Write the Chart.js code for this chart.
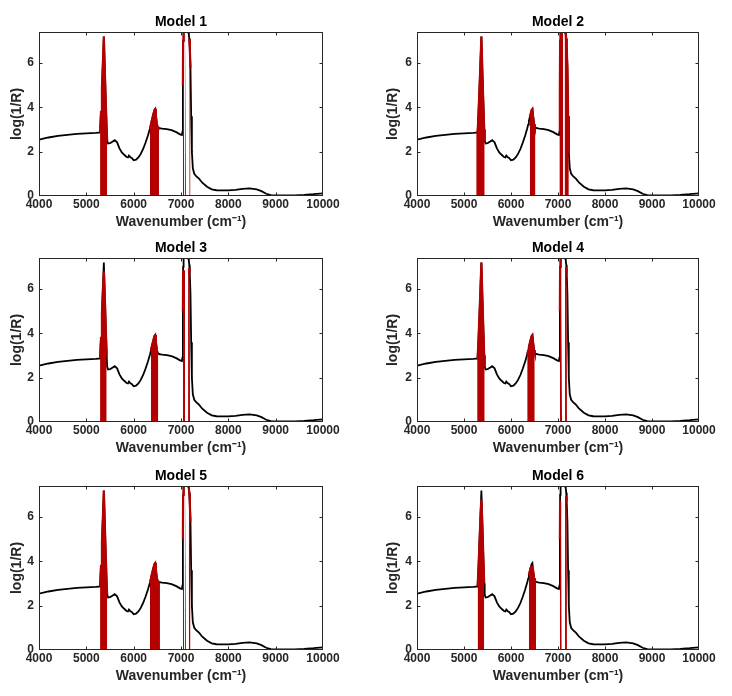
<!DOCTYPE html>
<html>
<head>
<meta charset="utf-8">
<script src="https://cdn.jsdelivr.net/npm/chart.js@4.4.1/dist/chart.umd.min.js"></script>
<style>
  body { margin: 0; background: #fff; }
  #wrap { position: relative; width: 732px; height: 696px; }
  #wrap canvas { position: absolute; }
</style>
</head>
<body>
<div id="wrap"></div>
<script>
// NIR spectrum, same curve in every panel
const wavenumbers = [4000, 4200, 4400, 4600, 4800, 5000, 5200, 5260, 5280, 5290, 5310, 5330, 5350, 5370, 5390, 5410, 5430, 5440, 5460, 5500,
  5550, 5600, 5650, 5700, 5750, 5800, 5850, 5880, 5900, 5930, 5960, 6000, 6050, 6100, 6150, 6200, 6250, 6300, 6345, 6365,
  6380, 6400, 6420, 6440, 6455, 6470, 6490, 6505, 6520, 6535, 6555, 6600, 6700, 6800, 6900, 6980, 7020, 7030, 7040, 7045,
  7050, 7060, 7065, 7080, 7085, 7100, 7105, 7110, 7120, 7140, 7150, 7165, 7175, 7180, 7190, 7200, 7215, 7230, 7250, 7280,
  7320, 7380, 7450, 7550, 7650, 7750, 7850, 8000, 8150, 8300, 8450, 8600, 8700, 8800, 8900, 9000, 9200, 9400, 9600, 9800,
  10000];
const absorbance = [2.54, 2.64, 2.71, 2.76, 2.80, 2.83, 2.85, 2.86, 2.86, 2.87, 3.8, 4.9, 6.0, 7.2, 5.7, 4.3, 3.0, 2.5, 2.37, 2.38,
  2.45, 2.52, 2.42, 2.15, 1.97, 1.86, 1.76, 1.74, 1.82, 1.75, 1.72, 1.61, 1.64, 1.74, 1.90, 2.12, 2.40, 2.72, 3.05, 3.22,
  3.38, 3.55, 3.72, 3.88, 3.92, 3.6, 3.25, 3.12, 3.09, 3.07, 3.06, 3.04, 3.02, 2.97, 2.88, 2.78, 2.75, 2.9, 5.0, 7.0,
  7.3, 7.4, 7.4, 7.4, 7.4, 7.4, 7.4, 7.4, 7.4, 7.4, 7.4, 7.3, 7.1, 7.0, 6.7, 5.8, 3.6, 2.0, 1.25, 1.0,
  0.9, 0.78, 0.6, 0.42, 0.3, 0.26, 0.25, 0.25, 0.28, 0.32, 0.34, 0.3, 0.22, 0.1, 0.04, 0.03, 0.03, 0.03, 0.05, 0.08,
  0.12];

const xTicks = [4000, 5000, 6000, 7000, 8000, 9000, 10000];
const yTicks = [0, 2, 4, 6];
const modelNames = ['Model 1', 'Model 2', 'Model 3', 'Model 4', 'Model 5', 'Model 6'];

// selected wavenumber ranges: [from, to, red top (null = up to the curve)]
const model1Bands = [[5290, 5440, null], [6345, 6535, null], [7040, 7065, null], [7080, 7105, null], [7175, 7200, null]];
const model2Bands = [[5260, 5440, null], [6400, 6520, null], [7030, 7110, null], [7140, 7230, null]];
const model3Bands = [[5290, 5430, 6.8], [6365, 6520, null], [7040, 7085, 6.8], [7150, 7190, 6.9]];
const model4Bands = [[5280, 5440, null], [6345, 6505, null], [7040, 7085, null], [7150, 7190, 6.95]];
const model5Bands = [[5290, 5440, null], [6345, 6555, null], [7040, 7065, null], [7080, 7105, null], [7165, 7200, null]];
const model6Bands = [[5290, 5430, 6.8], [6380, 6535, 3.75], [7040, 7080, 6.7], [7150, 7190, 6.9]];
const modelBands = [model1Bands, model2Bands, model3Bands, model4Bands, model5Bands, model6Bands];

const FONT = 'Liberation Sans, Arial, Helvetica, sans-serif';
const RED = '#b40000';
const spectrum = wavenumbers.map((w, i) => ({ x: w, y: absorbance[i] }));

function bandPoints(from, to, top) {
  return spectrum
    .filter(p => p.x >= from && p.x <= to)
    .map(p => ({ x: p.x, y: top == null ? p.y : Math.min(p.y, top) }));
}

// MATLAB style box with inward ticks
const frameAndTicks = {
  id: 'frameAndTicks',
  afterDatasetsDraw(chart) {
    const { ctx, chartArea: a, scales: { x, y } } = chart;
    ctx.save();
    ctx.strokeStyle = '#262626';
    ctx.lineWidth = 1;
    const l = Math.round(a.left) + 0.5, r = Math.round(a.right) - 0.5;
    const t = Math.round(a.top) + 0.5, b = Math.round(a.bottom) - 0.5;
    ctx.strokeRect(l, t, r - l, b - t);
    ctx.beginPath();
    xTicks.slice(1, -1).forEach(v => {
      const px = Math.round(x.getPixelForValue(v)) + 0.5;
      ctx.moveTo(px, b); ctx.lineTo(px, b - 3);
      ctx.moveTo(px, t); ctx.lineTo(px, t + 3);
    });
    yTicks.slice(1).forEach(v => {
      const py = Math.round(y.getPixelForValue(v)) + 0.5;
      ctx.moveTo(l, py); ctx.lineTo(l + 3, py);
      ctx.moveTo(r, py); ctx.lineTo(r - 3, py);
    });
    ctx.stroke();
    ctx.restore();
  }
};

const cols = [
  { left: 0, width: 366, padRight: 43, yTitlePad: 9 },
  { left: 378, width: 354, padRight: 33, yTitlePad: 7 }
];
const rowTops = [0, 226, 454];

modelNames.forEach((name, i) => {
  const col = cols[i % 2];
  const canvas = document.createElement('canvas');
  canvas.width = col.width;
  canvas.height = 232;
  canvas.style.left = col.left + 'px';
  canvas.style.top = rowTops[Math.floor(i / 2)] + 'px';
  canvas.style.width = col.width + 'px';
  canvas.style.height = '232px';
  document.getElementById('wrap').appendChild(canvas);

  const redSets = modelBands[i].map(([from, to, top]) => ({
    data: bandPoints(from, to, top),
    borderWidth: 2.2,
    borderColor: RED,
    backgroundColor: RED,
    fill: 'origin',
    pointRadius: 0,
    tension: 0,
    order: 0
  }));

  new Chart(canvas.getContext('2d'), {
    type: 'line',
    data: {
      datasets: [...redSets, {
        data: spectrum,
        borderColor: '#000',
        borderWidth: 1.8,
        fill: false,
        pointRadius: 0,
        tension: 0,
        order: 1
      }]
    },
    options: {
      responsive: false,
      animation: false,
      layout: { padding: { left: 0, right: col.padRight, top: 0, bottom: 0 } },
      plugins: {
        legend: { display: false },
        tooltip: { enabled: false },
        title: {
          display: true,
          text: name,
          fullSize: false,
          color: '#000',
          font: { family: FONT, size: 14, weight: 'bold', lineHeight: 1 },
          padding: { top: 15, bottom: 3 }
        }
      },
      scales: {
        x: {
          type: 'linear',
          min: 4000,
          max: 10000,
          afterBuildTicks: s => { s.ticks = xTicks.map(v => ({ value: v })); },
          afterFit: s => { s.height = 36; },
          grid: { display: false, drawTicks: false },
          border: { display: false },
          ticks: {
            autoSkip: false, maxRotation: 0, padding: 1, color: '#262626',
            font: { family: FONT, size: 12, weight: 'bold' },
            callback: v => String(v)
          },
          title: {
            display: true, text: 'Wavenumber (cm⁻¹)', color: '#262626',
            font: { family: FONT, size: 14, weight: 'bold' },
            padding: { top: 0, bottom: 1.6 }
          }
        },
        y: {
          min: 0,
          max: 7.4,
          afterBuildTicks: s => { s.ticks = yTicks.map(v => ({ value: v })); },
          afterFit: s => { s.width = 39; },
          grid: { display: false, drawTicks: false },
          border: { display: false },
          ticks: {
            padding: 5, color: '#262626',
            font: { family: FONT, size: 12, weight: 'bold' },
            callback: v => String(v)
          },
          title: {
            display: true, text: 'log(1/R)', color: '#262626',
            font: { family: FONT, size: 14, weight: 'bold' },
            padding: { top: col.yTitlePad, bottom: 0 }
          }
        }
      }
    },
    plugins: [frameAndTicks]
  });
});
</script>
</body>
</html>
